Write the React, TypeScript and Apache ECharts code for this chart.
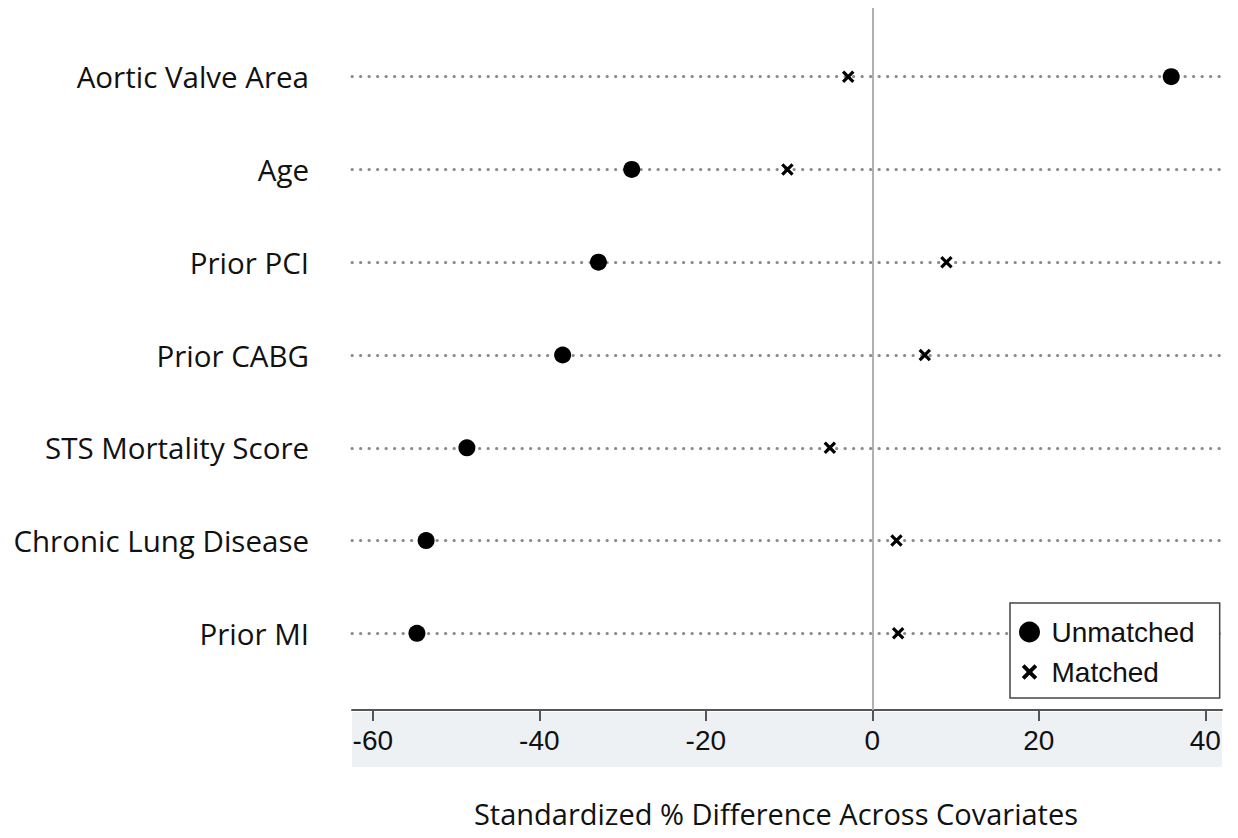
import React, { useEffect, useRef } from "react";
import * as echarts from "echarts";

const categories = [
  "Aortic Valve Area",
  "Age",
  "Prior PCI",
  "Prior CABG",
  "STS Mortality Score",
  "Chronic Lung Disease",
  "Prior MI",
];
const unmatched = [35.9, -28.9, -32.9, -37.2, -48.7, -53.6, -54.7];
const matched = [-2.9, -10.2, 8.9, 6.3, -5.1, 2.9, 3.1];
const xTicks = [-60, -40, -20, 0, 20, 40];
const xMin = -62.5;
const xMax = 42;

const CROSS =
  "path://M0,0L0.1,0L0.1,0.1ZM34,34L33.9,34L33.9,33.9ZM9,4.5L29.5,25L25,29.5L4.5,9ZM25,4.5L29.5,9L9,29.5L4.5,25Z";

const catFont = "'Open Sans', Lato, sans-serif";
const numFont = "'Liberation Sans', Arial, sans-serif";

export default function App() {
  const ref = useRef<HTMLDivElement>(null);
  useEffect(() => {
    if (!ref.current) return;
    const chart = echarts.init(ref.current, undefined, { renderer: "svg" });
    chart.setOption({
      animation: false,
      backgroundColor: "#ffffff",
      grid: [
        { left: 352, right: 16, top: 30.3, height: 649.4 },
        { left: 352, right: 16, top: 8, bottom: 128 },
        {
          left: 352,
          right: 16,
          top: 712,
          height: 55,
          show: true,
          backgroundColor: "#edf1f4",
          borderWidth: 0,
        },
      ],
      xAxis: [
        { type: "value", gridIndex: 0, min: xMin, max: xMax, show: false },
        {
          type: "value",
          gridIndex: 1,
          min: xMin,
          max: xMax,
          axisLine: { show: true, onZero: false, lineStyle: { color: "#555", width: 2 } },
          axisTick: {
            show: true,
            length: 11,
            customValues: xTicks,
            lineStyle: { color: "#555", width: 2 },
          },
          axisLabel: {
            customValues: xTicks,
            fontFamily: numFont,
            fontSize: 28,
            color: "#111",
            margin: 16,
          },
          splitLine: { show: false },
          name: "Standardized % Difference Across Covariates",
          nameLocation: "middle",
          nameGap: 89,
          nameTextStyle: {
            fontFamily: catFont,
            fontSize: 29,
            color: "#111",
            padding: [0, 22, 0, 0],
          },
        },
        { type: "value", gridIndex: 2, min: xMin, max: xMax, show: false },
      ],
      yAxis: [
        {
          type: "category",
          gridIndex: 0,
          data: categories,
          inverse: true,
          axisLine: { show: false },
          axisTick: { show: false },
          splitLine: { show: false },
          axisLabel: {
            fontFamily: catFont,
            fontSize: 29.5,
            color: "#111",
            margin: 43,
          },
        },
        { type: "value", gridIndex: 1, min: 0, max: 1, show: false },
        { type: "value", gridIndex: 2, min: 0, max: 1, show: false },
      ],
      legend: {
        left: 1010,
        top: 603,
        z: 20,
        orient: "vertical",
        data: ["Unmatched", "Matched"],
        borderColor: "#444",
        borderWidth: 1.5,
        backgroundColor: "#fff",
        padding: [14, 25, 11, 9],
        itemWidth: 34,
        itemHeight: 21,
        itemGap: 10,
        textStyle: {
          fontFamily: numFont,
          fontSize: 28,
          color: "#111",
          lineHeight: 30,
        },
      },
      series: [
        {
          type: "scatter",
          xAxisIndex: 1,
          yAxisIndex: 1,
          data: [],
          silent: true,
          markLine: {
            silent: true,
            symbol: "none",
            label: { show: false },
            lineStyle: { color: "#b0b0b0", width: 2, type: "solid" },
            data: [{ xAxis: 0 }],
          },
        },
        {
          type: "scatter",
          name: "dots",
          xAxisIndex: 0,
          yAxisIndex: 0,
          data: [],
          silent: true,
          markLine: {
            silent: true,
            symbol: "none",
            label: { show: false },
            lineStyle: {
              color: "#8a8a8a",
              width: 3,
              type: [0.3, 8.2],
              cap: "round",
            },
            data: categories.map((c) => ({ yAxis: c })),
          },
        },
        {
          type: "scatter",
          name: "Unmatched",
          xAxisIndex: 0,
          yAxisIndex: 0,
          symbol: "circle",
          symbolSize: 17,
          itemStyle: { color: "#000", opacity: 1 },
          data: unmatched.map((v, i) => [v, categories[i]]),
          z: 5,
        },
        {
          type: "scatter",
          name: "Matched",
          xAxisIndex: 0,
          yAxisIndex: 0,
          symbol: CROSS,
          symbolSize: 17,
          itemStyle: { color: "#000", opacity: 1 },
          data: matched.map((v, i) => [v, categories[i]]),
          z: 5,
        },
      ],
    });
    return () => chart.dispose();
  }, []);
  return <div ref={ref} style={{ width: 1238, height: 838, margin: -8 }} />;
}
